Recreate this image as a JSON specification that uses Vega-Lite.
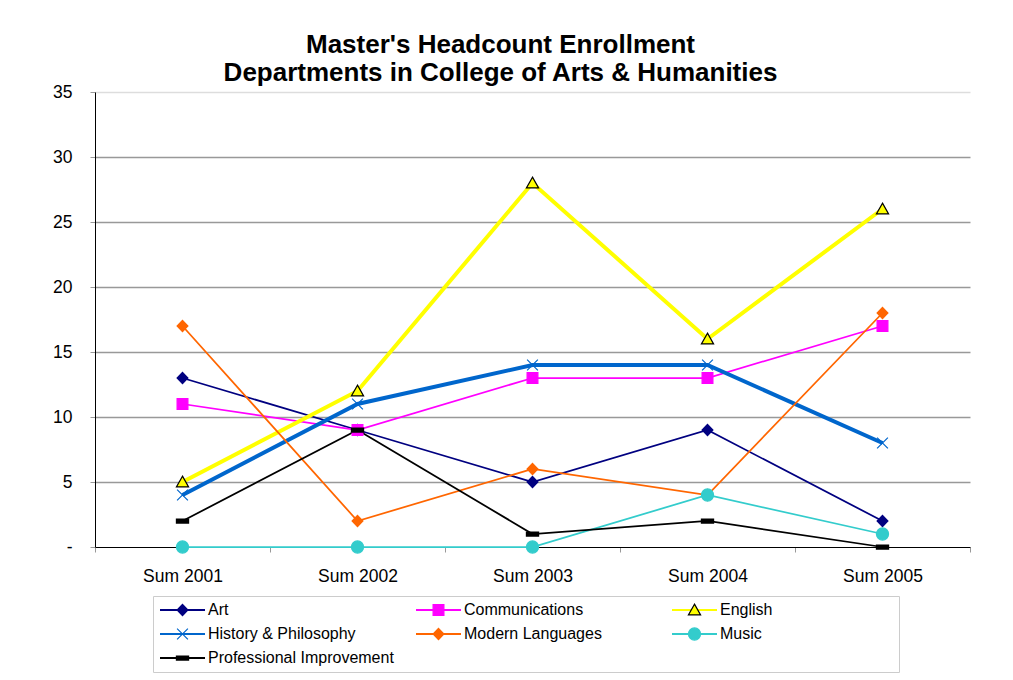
{
  "$schema": "https://vega.github.io/schema/vega-lite/v6.json",
  "width": 875,
  "height": 455,
  "autosize": {"type": "none"},
  "padding": {"left": 95, "top": 92, "right": 43, "bottom": 133},
  "background": "white",
  "config": {"view": {"stroke": null}, "font": "Liberation Sans"},
  "title": {
    "text": ["Master's Headcount Enrollment", "Departments in College of Arts & Humanities"],
    "fontSize": 26,
    "fontWeight": "bold",
    "font": "Liberation Sans",
    "color": "#000000",
    "anchor": "middle",
    "dx": -32,
    "offset": -3,
    "lineHeight": 28
  },
  "data": {
    "values": [
      {"term": "Sum 2001", "dept": "Art", "n": 13},
      {"term": "Sum 2002", "dept": "Art", "n": 9},
      {"term": "Sum 2003", "dept": "Art", "n": 5},
      {"term": "Sum 2004", "dept": "Art", "n": 9},
      {"term": "Sum 2005", "dept": "Art", "n": 2},
      {"term": "Sum 2001", "dept": "Communications", "n": 11},
      {"term": "Sum 2002", "dept": "Communications", "n": 9},
      {"term": "Sum 2003", "dept": "Communications", "n": 13},
      {"term": "Sum 2004", "dept": "Communications", "n": 13},
      {"term": "Sum 2005", "dept": "Communications", "n": 17},
      {"term": "Sum 2001", "dept": "English", "n": 5},
      {"term": "Sum 2002", "dept": "English", "n": 12},
      {"term": "Sum 2003", "dept": "English", "n": 28},
      {"term": "Sum 2004", "dept": "English", "n": 16},
      {"term": "Sum 2005", "dept": "English", "n": 26},
      {"term": "Sum 2001", "dept": "History & Philosophy", "n": 4},
      {"term": "Sum 2002", "dept": "History & Philosophy", "n": 11},
      {"term": "Sum 2003", "dept": "History & Philosophy", "n": 14},
      {"term": "Sum 2004", "dept": "History & Philosophy", "n": 14},
      {"term": "Sum 2005", "dept": "History & Philosophy", "n": 8},
      {"term": "Sum 2001", "dept": "Modern Languages", "n": 17},
      {"term": "Sum 2002", "dept": "Modern Languages", "n": 2},
      {"term": "Sum 2003", "dept": "Modern Languages", "n": 6},
      {"term": "Sum 2004", "dept": "Modern Languages", "n": 4},
      {"term": "Sum 2005", "dept": "Modern Languages", "n": 18},
      {"term": "Sum 2001", "dept": "Music", "n": 0},
      {"term": "Sum 2002", "dept": "Music", "n": 0},
      {"term": "Sum 2003", "dept": "Music", "n": 0},
      {"term": "Sum 2004", "dept": "Music", "n": 4},
      {"term": "Sum 2005", "dept": "Music", "n": 1},
      {"term": "Sum 2001", "dept": "Professional Improvement", "n": 2},
      {"term": "Sum 2002", "dept": "Professional Improvement", "n": 9},
      {"term": "Sum 2003", "dept": "Professional Improvement", "n": 1},
      {"term": "Sum 2004", "dept": "Professional Improvement", "n": 2},
      {"term": "Sum 2005", "dept": "Professional Improvement", "n": 0}
    ]
  },
  "layer": [
    {
      "mark": {"type": "line", "strokeCap": "butt", "strokeJoin": "miter"},
      "encoding": {
        "x": {
          "field": "term",
          "type": "nominal",
          "bandPosition": 0.5,
          "scale": {"type": "band", "paddingInner": 0, "paddingOuter": 0},
          "axis": {
            "title": null,
            "labelAngle": 0,
            "tickBand": "extent",
            "domainColor": "#000000",
            "domainWidth": 1,
            "tickColor": "#999999",
            "tickSize": 5,
            "tickWidth": 1,
            "labelFontSize": 17.5,
            "labelColor": "#000000",
            "labelPadding": 15,
            "grid": false
          }
        },
        "y": {
          "field": "n",
          "type": "quantitative",
          "scale": {"domain": [0, 35], "nice": false},
          "axis": {
            "title": null,
            "values": [0, 5, 10, 15, 20, 25, 30, 35],
            "labelExpr": "datum.value === 0 ? '-' : datum.label",
            "domainColor": "#000000",
            "domainWidth": 1,
            "tickColor": "#999999",
            "tickSize": 5,
            "tickWidth": 1,
            "labelFontSize": 17.5,
            "labelColor": "#000000",
            "labelPadding": 18,
            "grid": true,
            "gridWidth": 1.5,
            "gridColor": {
              "condition": [
                {"test": "datum.value === 35", "value": "#dddddd"},
                {"test": "datum.value === 0", "value": "transparent"}
              ],
              "value": "#999999"
            }
          }
        },
        "color": {
          "field": "dept",
          "type": "nominal",
          "scale": {
            "domain": ["Art", "Communications", "English", "History & Philosophy", "Modern Languages", "Music", "Professional Improvement"],
            "range": ["#000080", "#FF00FF", "#FFFF00", "#0066CC", "#FF6600", "#33CCCC", "#000000"]
          },
          "legend": {
            "orient": "none",
            "direction": "horizontal",
            "legendX": 58,
            "legendY": 504,
            "title": "x",
            "titleOrient": "right",
            "titleColor": "transparent",
            "titleFontSize": 10,
            "titlePadding": 115,
            "columns": 3,
            "gridAlign": "all",
            "columnPadding": 21,
            "rowPadding": 8,
            "clipHeight": 16,
            "labelFontSize": 16,
            "labelColor": "#000000",
            "labelOffset": 2,
            "labelLimit": 300,
            "symbolType": "stroke",
            "symbolSize": 2025,
            "symbolStrokeWidth": 2,
            "symbolOffset": 0,
            "padding": 6,
            "strokeColor": "#cccccc"
          }
        },
        "strokeWidth": {
          "condition": {"test": "datum.dept === 'English' || datum.dept === 'History & Philosophy'", "value": 4},
          "value": 1.75
        }
      }
    },
    {
      "mark": {"type": "point", "filled": true, "opacity": 1, "size": 2025, "strokeWidth": 1.2},
      "encoding": {
        "x": {"field": "term", "type": "nominal", "bandPosition": 0.5},
        "y": {"field": "n", "type": "quantitative"},
        "fill": {
          "field": "dept",
          "type": "nominal",
          "scale": {"range": ["#000080", "#FF00FF", "#FFFF00", "#0066CC", "#FF6600", "#33CCCC", "#000000"]},
          "legend": {
            "orient": "none",
            "direction": "horizontal",
            "legendX": 58,
            "legendY": 504,
            "title": null,
            "columns": 3,
            "gridAlign": "all",
            "columnPadding": 21,
            "rowPadding": 8,
            "clipHeight": 16,
            "labelFontSize": 16,
            "labelOpacity": 0,
            "labelOffset": 2,
            "labelLimit": 300,
            "symbolSize": 2025,
            "symbolStrokeWidth": 1.2,
            "symbolOffset": 0,
            "symbolOpacity": 1,
            "padding": 6
          }
        },
        "stroke": {
          "field": "dept",
          "type": "nominal",
          "scale": {"range": ["#000080", "#FF00FF", "#000000", "#0066CC", "#FF6600", "#33CCCC", "#000000"]},
          "legend": {
            "orient": "none",
            "direction": "horizontal",
            "legendX": 58,
            "legendY": 504,
            "title": null,
            "columns": 3,
            "gridAlign": "all",
            "columnPadding": 21,
            "rowPadding": 8,
            "clipHeight": 16,
            "labelFontSize": 16,
            "labelOpacity": 0,
            "labelOffset": 2,
            "labelLimit": 300,
            "symbolSize": 2025,
            "symbolStrokeWidth": 1.2,
            "symbolOffset": 0,
            "symbolOpacity": 1,
            "padding": 6
          }
        },
        "shape": {
          "field": "dept",
          "type": "nominal",
          "scale": {"range": [
            "M0,-0.25L0.24,0L0,0.25L-0.24,0Z",
            "M-0.24,-0.24H0.24V0.24H-0.24Z",
            "M0,-0.26L0.27,0.22H-0.27Z",
            "M-0.24,-0.24L0.24,0.24M-0.24,0.24L0.24,-0.24",
            "M0,-0.25L0.24,0L0,0.25L-0.24,0Z",
            "M0.27,0L0.249,0.103L0.191,0.191L0.103,0.249L0,0.27L-0.103,0.249L-0.191,0.191L-0.249,0.103L-0.27,0L-0.249,-0.103L-0.191,-0.191L-0.103,-0.249L0,-0.27L0.103,-0.249L0.191,-0.191L0.249,-0.103Z",
            "M-0.27,-0.09H0.27V0.09H-0.27Z"
          ]},
          "legend": {
            "orient": "none",
            "direction": "horizontal",
            "legendX": 58,
            "legendY": 504,
            "title": null,
            "columns": 3,
            "gridAlign": "all",
            "columnPadding": 21,
            "rowPadding": 8,
            "clipHeight": 16,
            "labelFontSize": 16,
            "labelOpacity": 0,
            "labelOffset": 2,
            "labelLimit": 300,
            "symbolSize": 2025,
            "symbolStrokeWidth": 1.2,
            "symbolOffset": 0,
            "symbolOpacity": 1,
            "padding": 6
          }
        }
      }
    }
  ]
}
